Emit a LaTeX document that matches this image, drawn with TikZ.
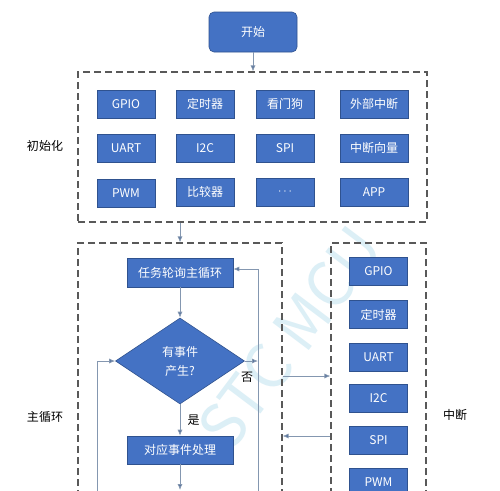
\documentclass[tikz,border=0pt]{standalone}
\usepackage{fontspec}
\setmainfont{Noto Sans CJK SC}
\usetikzlibrary{shapes.geometric,arrows.meta}
\definecolor{boxblue}{HTML}{4472C4}
\definecolor{boxline}{HTML}{2F528F}
\definecolor{dashgray}{HTML}{595959}
\definecolor{connline}{HTML}{8497B0}
\definecolor{conntip}{HTML}{4F6D9A}
\definecolor{wmark}{HTML}{DCEFF6}
\begin{document}
\begin{tikzpicture}[x=1pt,y=-1pt,
  blk/.style={draw=boxline, fill=boxblue, text=white, minimum width=58pt, minimum height=28pt, inner sep=0pt, line width=0.6pt, font=\fontsize{12}{14}\selectfont},
  dbox/.style={draw=dashgray, line width=1.1pt, dash pattern=on 7pt off 4pt, inner sep=0pt},
  conn/.style={draw=connline, line width=0.8pt, -{Latex[length=6pt,width=5pt,fill=conntip]}},
  lbl/.style={font=\fontsize{12}{14}\selectfont, text=black}
]
\useasboundingbox (0,0) rectangle (500,490);
\clip (0,0) rectangle (500,490);
\fill[white] (0,0) rectangle (500,490);

% watermark
\node[rotate=53, text=wmark, font=\fontsize{62}{62}\selectfont, inner sep=0pt] (wm) at (290,338) {STC MCU};

% start
\node[blk, rounded corners=5pt, minimum width=88pt, minimum height=40pt] (start) at (253,32) {开始};

% init region
\node[dbox, minimum width=349pt, minimum height=150pt] (init) at (252.5,147) {};
\node[lbl] (linit) at (45,146) {初始化};

\node[blk] (g1) at (126,104) {GPIO};
\node[blk] (g2) at (205,104) {定时器};
\node[blk] (g3) at (285,104) {看门狗};
\node[blk, minimum width=68pt] (g4) at (374,104) {外部中断};
\node[blk] (u1) at (126,148) {UART};
\node[blk] (u2) at (205,148) {I2C};
\node[blk] (u3) at (285,148) {SPI};
\node[blk, minimum width=68pt] (u4) at (374,148) {中断向量};
\node[blk] (p1) at (126,193) {PWM};
\node[blk] (p2) at (205,192) {比较器};
\node[blk] (p3) at (285,192) {$\cdots$};
\node[blk, minimum width=68pt] (p4) at (374,192) {APP};

\draw[conn] (start.south) -- (start.south |- init.north);

% main loop region
\node[dbox, minimum width=204pt, minimum height=280pt] (main) at (180,383) {};
\node[lbl] (lmain) at (45,417) {主循环};
\draw[conn] (main.north |- init.south) -- (main.north);

% interrupt region
\node[dbox, minimum width=95pt, minimum height=280pt] (intr) at (378.5,383) {};
\node[lbl] (lintr) at (455,415) {中断};

\node[blk] (i1) at (378.5,271) {GPIO};
\node[blk] (i2) at (378.5,314.5) {定时器};
\node[blk] (i3) at (378.5,357) {UART};
\node[blk] (i4) at (378.5,398) {I2C};
\node[blk] (i5) at (378.5,440) {SPI};
\node[blk] (i6) at (378.5,482) {PWM};

% main loop flow
\node[blk, minimum width=106pt, minimum height=29pt] (task) at (180,272.5) {任务轮询主循环};
\node[diamond, draw=boxline, fill=boxblue, text=white, line width=0.6pt, minimum width=129pt, minimum height=86pt, inner sep=0pt, align=center, font=\fontsize{12}{19}\selectfont] (dec) at (180,361) {有事件\\产生?};
\node[blk, minimum width=106pt] (evt) at (180,450) {对应事件处理};

\coordinate (rtop) at (258,269);
\coordinate (rbot) at (258,500);
\coordinate (lbot) at (97,500);
\coordinate (lmid) at (97,361);
\coordinate (ebot) at (180,490);
\coordinate (m1) at (0,376);
\coordinate (m2) at (0,436);

\draw[conn] (task.south) -- (dec.north);
\draw[conn] (dec.south) -- node[lbl, right, pos=0.5, xshift=4pt] (yes) {是} (evt.north);
\draw[conn] (evt.south) -- (ebot);
\draw[conn] (dec.east) -- (dec.east -| rtop);
\node[lbl] (no) at (247,377) {否};
\draw[conn] (rbot) -- (rtop) -- (rtop -| task.east);
\draw[conn] (lbot) -- (lmid) -- (dec.west);

% between regions
\draw[conn] (main.east |- m1) -- (intr.west |- m1);
\draw[conn] (intr.west |- m2) -- (main.east |- m2);
\end{tikzpicture}
\end{document}
